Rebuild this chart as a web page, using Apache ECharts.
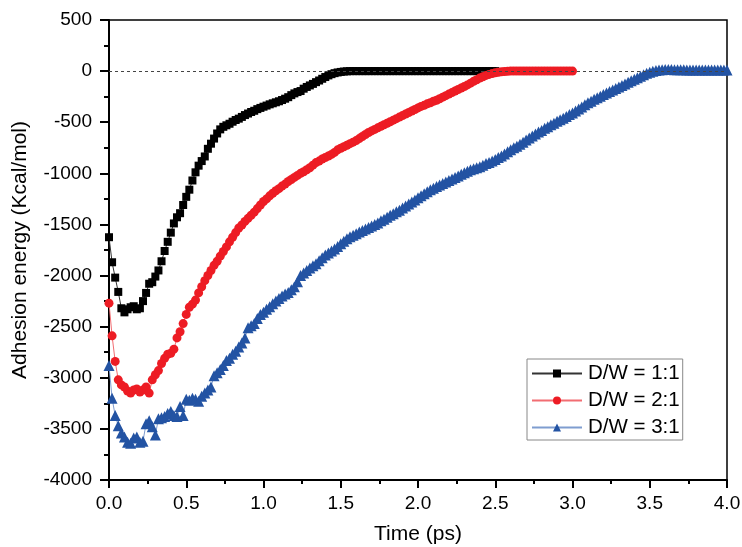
<!DOCTYPE html>
<html>
<head>
<meta charset="utf-8">
<script src="https://cdn.jsdelivr.net/npm/echarts@6/dist/echarts.min.js"></script>
<style>html,body{margin:0;padding:0;background:#fff}#c{width:742px;height:547px}</style>
</head>
<body>
<div id="c"></div>
<script>
// sampling step of the simulation output (ps)
const timeStep = 0.02;
const seriesNames = ['D/W = 1:1', 'D/W = 2:1', 'D/W = 3:1'];
const xTickLabels = ['0.0','0.5','1.0','1.5','2.0','2.5','3.0','3.5','4.0'];
const yTickLabels = ['-4000','-3500','-3000','-2500','-2000','-1500','-1000','-500','0','500'];

// D/W = 1:1 (t = 0 .. 2.5 ps)
const energy11 = [
-1625,-1870,-2020,-2160,-2320,-2360,-2330,-2310,-2300,-2330,
-2320,-2250,-2170,-2080,-2065,-2010,-1950,-1860,-1760,-1670,
-1580,-1490,-1430,-1390,-1310,-1230,-1160,-1070,-990,-925,
-880,-835,-760,-710,-660,-610,-570,-545,-530,-515,
-495,-478,-465,-448,-430,-415,-400,-388,-372,-360,
-348,-337,-325,-315,-305,-295,-283,-270,-255,-235,
-218,-205,-195,-172,-155,-140,-125,-108,-92,-75,
-58,-42,-30,-20,-13,-8,-4,-2,0,0,
0,0,0,0,0,0,0,0,0,0,
0,0,0,0,0,0,0,0,0,0,
0,0,0,0,0,0,0,0,0,0,
0,0,0,0,0,0,0,0,0,0,
0,0,0,0,0,0
];

// D/W = 2:1 (t = 0 .. 3.0 ps)
const energy21 = [
-2270,-2590,-2840,-3020,-3070,-3090,-3130,-3150,-3120,-3110,
-3140,-3120,-3090,-3150,-3020,-2970,-2930,-2860,-2810,-2770,
-2760,-2720,-2610,-2550,-2470,-2380,-2310,-2280,-2240,-2170,
-2110,-2050,-2000,-1950,-1900,-1860,-1810,-1765,-1720,-1670,
-1625,-1580,-1535,-1505,-1470,-1440,-1410,-1380,-1345,-1310,
-1275,-1250,-1220,-1195,-1170,-1150,-1125,-1105,-1080,-1060,
-1040,-1020,-1000,-985,-965,-945,-920,-895,-880,-860,
-845,-830,-815,-795,-770,-755,-740,-725,-710,-695,
-680,-660,-640,-620,-600,-585,-570,-555,-540,-525,
-510,-495,-480,-465,-450,-435,-420,-405,-390,-375,
-360,-345,-335,-320,-310,-295,-285,-270,-255,-240,
-225,-210,-195,-180,-165,-150,-135,-118,-100,-85,
-68,-55,-42,-32,-24,-17,-11,-7,-4,-2,
0,0,0,0,0,0,0,0,0,0,
0,0,0,0,0,0,0,0,0,0,
0
];

// D/W = 3:1 (t = 0 .. 4.0 ps)
const energy31 = [
-2880,-3200,-3370,-3470,-3540,-3580,-3630,-3640,-3590,-3580,
-3630,-3620,-3450,-3420,-3480,-3560,-3400,-3390,-3380,-3350,
-3330,-3370,-3380,-3280,-3370,-3210,-3220,-3200,-3210,-3230,
-3180,-3150,-3120,-3090,-2980,-2950,-2920,-2880,-2830,-2810,
-2770,-2740,-2700,-2660,-2610,-2510,-2490,-2470,-2420,-2380,
-2360,-2330,-2305,-2275,-2250,-2225,-2200,-2180,-2165,-2140,
-2110,-2060,-2000,-1975,-1950,-1925,-1905,-1885,-1855,-1825,
-1800,-1780,-1760,-1740,-1715,-1690,-1665,-1640,-1620,-1605,
-1590,-1575,-1560,-1545,-1530,-1515,-1500,-1485,-1465,-1450,
-1430,-1410,-1395,-1375,-1360,-1340,-1320,-1300,-1280,-1260,
-1240,-1220,-1200,-1180,-1160,-1145,-1130,-1115,-1100,-1085,
-1070,-1055,-1040,-1025,-1010,-995,-980,-965,-955,-945,
-935,-920,-905,-895,-880,-865,-845,-830,-810,-790,
-770,-750,-735,-715,-695,-675,-655,-635,-615,-595,
-580,-560,-545,-525,-510,-490,-475,-460,-445,-425,
-410,-390,-370,-350,-330,-310,-295,-275,-260,-245,
-230,-215,-200,-185,-170,-155,-140,-125,-110,-95,
-80,-65,-50,-35,-22,-10,-2,5,10,13,
15,15,15,14,14,13,13,12,12,12,
12,12,12,11,11,11,11,10,10,10,
10
];

function pairs(vals){ return vals.map((v,i)=>[+(i*timeStep).toFixed(2), v]); }

const chart = echarts.init(document.getElementById('c'), null, {renderer:'canvas'});
const FONT = 'Liberation Sans, Arial, sans-serif';
chart.setOption({
  animation:false,
  backgroundColor:'#fff',
  grid:{left:109, right:15, top:20, bottom:67, containLabel:false, outerBoundsMode:'none',
        show:true, borderColor:'#000', borderWidth:1.5, backgroundColor:'transparent'},
  xAxis:{
    type:'value', min:0, max:4, interval:0.5,
    name:'Time (ps)', nameLocation:'middle', nameGap:44,
    nameTextStyle:{fontFamily:FONT, fontSize:21, color:'#000'},
    axisLine:{show:true, onZero:false, lineStyle:{color:'#000', width:2}},
    axisTick:{show:true, inside:false, length:8, lineStyle:{color:'#000', width:2}},
    minorTick:{show:true, splitNumber:2, length:4, lineStyle:{color:'#000', width:2}},
    axisLabel:{fontFamily:FONT, fontSize:19, color:'#000', margin:14,
      formatter:(v)=>xTickLabels[Math.round(v/0.5)]},
    splitLine:{show:false}
  },
  yAxis:{
    type:'value', min:-4000, max:500, interval:500,
    name:'Adhesion energy (Kcal/mol)', nameLocation:'middle', nameGap:78,
    nameTextStyle:{fontFamily:FONT, fontSize:21, color:'#000'},
    axisLine:{show:true, onZero:false, lineStyle:{color:'#000', width:2}},
    axisTick:{show:true, inside:false, length:9, lineStyle:{color:'#000', width:2}},
    minorTick:{show:true, splitNumber:2, length:5, lineStyle:{color:'#000', width:2}},
    axisLabel:{fontFamily:FONT, fontSize:19, color:'#000', margin:17,
      formatter:(v)=>yTickLabels[Math.round((v+4000)/500)]},
    splitLine:{show:false}
  },
  legend:{
    orient:'vertical', left:527, top:359,
    data:seriesNames,
    itemWidth:50, itemHeight:10, itemGap:6,
    padding:[4,3,2,4],
    borderColor:'#888', borderWidth:1, backgroundColor:'#fff',
    textStyle:{fontFamily:FONT, fontSize:20.5, lineHeight:21, color:'#000', padding:[0,0,0,1]}
  },
  series:[
    {name:seriesNames[0], type:'line', data:pairs(energy11),
     symbol:'rect', symbolSize:8, showAllSymbol:true,
     itemStyle:{color:'#000'}, lineStyle:{color:'#333', width:1},
     markLine:{silent:true, symbol:'none', label:{show:false},
       lineStyle:{color:'#444', type:[3,3], width:1}, data:[{yAxis:0}]}},
    {name:seriesNames[1], type:'line', data:pairs(energy21),
     symbol:'circle', symbolSize:9, showAllSymbol:true,
     itemStyle:{color:'#ed1c24'}, lineStyle:{color:'#f26d72', width:1}},
    {name:seriesNames[2], type:'line', data:pairs(energy31),
     symbol:'triangle', symbolSize:11, showAllSymbol:true,
     itemStyle:{color:'#2353a3'}, lineStyle:{color:'#7f9dd0', width:1}}
  ]
});
</script>
</body>
</html>
